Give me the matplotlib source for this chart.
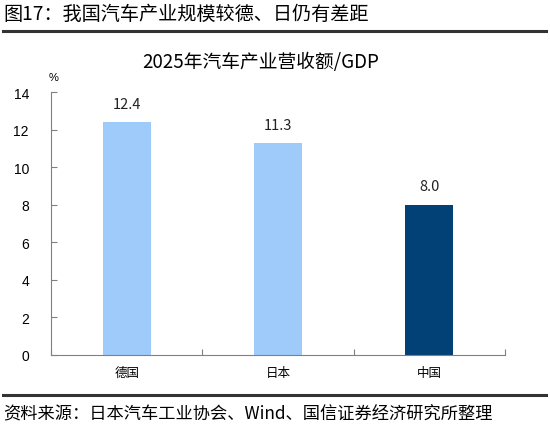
import matplotlib
matplotlib.use("Agg")
import matplotlib.pyplot as plt
from matplotlib.lines import Line2D

plt.rcParams['font.family'] = ['Noto Sans CJK SC', 'DejaVu Sans']

countries = ['德国', '日本', '中国']
values = [12.4, 11.3, 8.0]
colors = ['#9ECBFA', '#9ECBFA', '#024175']
yticks = [0, 2, 4, 6, 8, 10, 12, 14]

fig = plt.figure(figsize=(5.5, 4.35), dpi=100)
ax = fig.add_axes([0.093, 0.182, 0.825, 0.604])

x = list(range(len(countries)))
bars = ax.bar(x, values, width=0.32, color=colors)
for b, v in zip(bars, values):
    ax.text(b.get_x() + b.get_width() / 2, v + 0.6, f'{v:.1f}',
            ha='center', va='bottom', fontsize=10.5, color='#222222')

ax.set_xlim(-0.5, 2.5)
ax.set_ylim(0, 14)
ax.set_yticks(yticks)
ax.set_yticklabels([str(t) for t in yticks], family='Liberation Sans', fontsize=10)
ax.set_xticks([-0.5, 0.5, 1.5, 2.5])
ax.set_xticklabels([])
ax.set_xticks(x, minor=True)
ax.set_xticklabels(countries, minor=True, fontsize=9)
ax.tick_params(axis='x', which='minor', length=0, pad=8)
ax.tick_params(axis='x', which='major', direction='in', length=4, color='#808080')
ax.tick_params(axis='y', direction='in', length=4, color='#808080', pad=16)
for s in ['top', 'right']:
    ax.spines[s].set_visible(False)
for s in ['left', 'bottom']:
    ax.spines[s].set_color('#808080')

ax.text(0.005, 1.04, '%', transform=ax.transAxes, ha='center', va='bottom',
        fontsize=8, family='Liberation Sans')
fig.text(0.473, 0.857, '2025年汽车产业营收额/GDP', fontsize=13.5,
         ha='center', va='center')

fig.text(0.006, 0.967, '图17：我国汽车产业规模较德、日仍有差距', fontsize=13.8,
         ha='left', va='center')
fig.add_artist(Line2D([0.006, 0.992], [0.927, 0.927], color='#333333', lw=2.2))
fig.add_artist(Line2D([0.006, 0.992], [0.09, 0.09], color='#333333', lw=2.2))
fig.text(0.006, 0.047, '资料来源：日本汽车工业协会、Wind、国信证券经济研究所整理', fontsize=12.4,
         ha='left', va='center')

fig.savefig('out.png', dpi=100)
